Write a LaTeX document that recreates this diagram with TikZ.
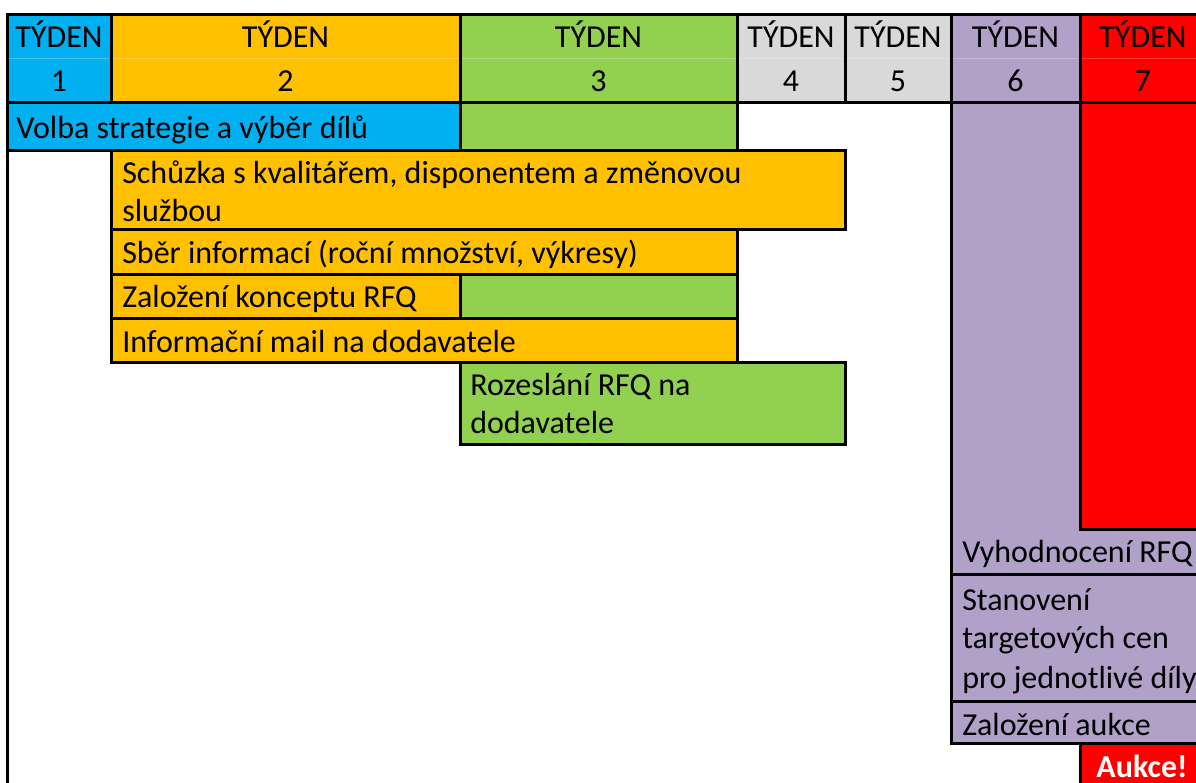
\documentclass[tikz,border=0pt]{standalone}
\usepackage{fontspec}
\setmainfont{Carlito}
\definecolor{cBlue}{HTML}{00B0F0}
\definecolor{cOrange}{HTML}{FFC000}
\definecolor{cGreen}{HTML}{92D050}
\definecolor{cGray}{HTML}{D9D9D9}
\definecolor{cPurple}{HTML}{B1A0C7}
\definecolor{cRed}{HTML}{FF0000}
\begin{document}
\begin{tikzpicture}[x=0.75pt,y=-0.75pt,
  cell/.style={draw=black, line width=2.25pt},
  rule/.style={draw=black, line width=2.25pt},
  gridline/.style={draw=white, opacity=0.25, line width=0.75pt},
  lbl/.style={anchor=base west, inner sep=0pt, font=\fontsize{24}{29}\selectfont},
  hd/.style={anchor=base, inner sep=0pt, font=\fontsize{24}{29}\selectfont}]
\useasboundingbox (0,0) rectangle (1196,782);
\clip (0,0) rectangle (1196,782);

% week header
\foreach \a/\b/\c/\n in {7/111/cBlue/1, 111/460/cOrange/2, 460/737/cGreen/3,
    737/845/cGray/4, 845/951/cGray/5, 951/1080/cPurple/6, 1080/1206/cRed/7} {
  \path[cell, fill=\c] (\a,14) rectangle (\b,102);
  \path[gridline] (\a+2,58) -- (\b-2,58);
  \node[hd] (wk\n) at ({(\a+\b)/2},47) {TÝDEN};
  \node[hd] (num\n) at ({(\a+\b)/2},91) {\n};
}

% outer left edge
\path[rule] (7,14) -- (7,800);

% weeks 1-5 tasks
\path[cell, fill=cBlue] (7,102) rectangle (460,150);
\path[cell, fill=cGreen] (460,102) rectangle (737,150);
\node[lbl] (volba) at (16,138) {Volba strategie a výběr dílů};

\path[cell, fill=cOrange] (111,150) rectangle (845,229);
\node[lbl] (schuzkaA) at (122,183) {Schůzka s kvalitářem, disponentem a změnovou};
\node[lbl] (schuzkaB) at (122,221) {službou};

\path[cell, fill=cOrange] (111,229) rectangle (737,274);
\node[lbl] (sber) at (122,263) {Sběr informací (roční množství, výkresy)};

\path[cell, fill=cOrange] (111,274) rectangle (460,318);
\path[cell, fill=cGreen] (460,274) rectangle (737,318);
\node[lbl] (koncept) at (122,307) {Založení konceptu RFQ};

\path[cell, fill=cOrange] (111,318) rectangle (737,362);
\node[lbl] (mail) at (122,352) {Informační mail na dodavatele};

\path[cell, fill=cGreen] (460,362) rectangle (845,444);
\node[lbl] (rozeslaniA) at (470,395) {Rozeslání RFQ na};
\node[lbl] (rozeslaniB) at (470,433) {dodavatele};

% weeks 6-7
\path[cell, fill=cPurple] (951,102) rectangle (1210,743);
\path[cell, fill=cRed] (1080,102) rectangle (1210,529);
\path[rule] (951,574) -- (1210,574);
\path[rule] (951,701) -- (1210,701);
\node[lbl] (vyhod) at (962,562) {Vyhodnocení RFQ};
\node[lbl] (stanA) at (962,610) {Stanovení};
\node[lbl] (stanB) at (962,648) {targetových cen};
\node[lbl] (stanC) at (962,688) {pro jednotlivé díly};
\node[lbl] (zalAukce) at (962,735) {Založení aukce};

\path[cell, fill=cRed] (1080,743) rectangle (1210,800);
\node[hd, text=white, font=\fontsize{24}{29}\selectfont\bfseries] (aukce) at (1142,777) {Aukce!};
\end{tikzpicture}
\end{document}
